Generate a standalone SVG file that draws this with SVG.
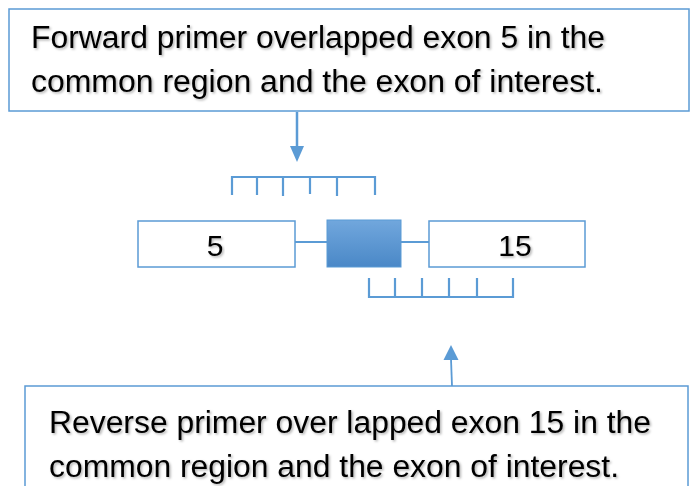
<svg xmlns="http://www.w3.org/2000/svg" width="691" height="486" viewBox="0 0 691 486">
  <defs>
    <linearGradient id="exonFill" x1="0" y1="0" x2="0" y2="1">
      <stop offset="0" stop-color="#71a7dd"/>
      <stop offset="1" stop-color="#4a88c7"/>
    </linearGradient>
    <filter id="softShadow" x="-5%" y="-20%" width="110%" height="140%">
      <feDropShadow dx="1.5" dy="1.5" stdDeviation="1" flood-color="#000" flood-opacity="0.3"/>
    </filter>
  </defs>
  <style>
    .box { fill: #ffffff; stroke: #5b9bd5; stroke-width: 1.5; }
    .note { font-family: "Liberation Sans", Arial, sans-serif; font-size: 31px; fill: #000; filter: url(#softShadow); }
    .label { font-family: "Liberation Sans", Arial, sans-serif; font-size: 30px; fill: #000; text-anchor: middle; filter: url(#softShadow); }
    .link { stroke: #5b9bd5; stroke-width: 2; fill: none; }
    .bracket { stroke: #5b9bd5; stroke-width: 2.2; fill: none; }
    .shaft { stroke: #5b9bd5; fill: none; }
    .head { fill: #5b9bd5; }
  </style>

  <rect width="691" height="486" fill="#ffffff"/>

  <!-- forward primer note -->
  <g id="forward-note">
    <rect class="box" x="9" y="9" width="680" height="102"/>
    <text class="note" x="31" y="48" textLength="574" lengthAdjust="spacingAndGlyphs">Forward primer overlapped exon 5 in the</text>
    <text class="note" x="31" y="92" textLength="572" lengthAdjust="spacingAndGlyphs">common region and the exon of interest.</text>
  </g>

  <!-- reverse primer note -->
  <g id="reverse-note">
    <rect class="box" x="25" y="386" width="663" height="110"/>
    <text class="note" x="49" y="433" textLength="602" lengthAdjust="spacingAndGlyphs">Reverse primer over lapped exon 15 in the</text>
    <text class="note" x="49" y="477" textLength="570" lengthAdjust="spacingAndGlyphs">common region and the exon of interest.</text>
  </g>

  <!-- exon 5 -->
  <g id="exon-5">
    <rect class="box" x="138" y="221" width="157" height="46"/>
    <text class="label" x="215" y="255.5">5</text>
  </g>

  <!-- exon of interest -->
  <g id="exon-interest">
    <rect x="327" y="220" width="74" height="47" fill="url(#exonFill)" stroke="#5b9bd5" stroke-width="1"/>
  </g>

  <!-- exon 15 -->
  <g id="exon-15">
    <rect class="box" x="429" y="221" width="156" height="46"/>
    <text class="label" x="515" y="255.5">15</text>
  </g>

  <!-- forward primer bracket -->
  <g id="forward-primer">
    <path class="bracket" d="M232,195 V177 H375 V195 M257,177 V195 M283,177 V196 M310,177 V194 M337,177 V196"/>
  </g>

  <!-- reverse primer bracket -->
  <g id="reverse-primer">
    <path class="bracket" d="M369,278 V297 H513 V278 M395,278 V297 M422,278 V297 M449,278 V297 M477,278 V297"/>
  </g>

  <g id="connectors">
    <line class="link" x1="295" y1="242" x2="327" y2="242"/>
    <line class="link" x1="401" y1="242" x2="429" y2="242"/>
    <!-- note to primer arrows -->
    <line class="shaft" x1="297" y1="112" x2="297" y2="147" stroke-width="2.5"/>
    <path class="head" d="M290,146 L304,146 L297,162 Z"/>
    <line class="shaft" x1="452" y1="386" x2="451" y2="359" stroke-width="1.8"/>
    <path class="head" d="M443.5,360 L458.5,360 L451,345 Z"/>
  </g>
</svg>
